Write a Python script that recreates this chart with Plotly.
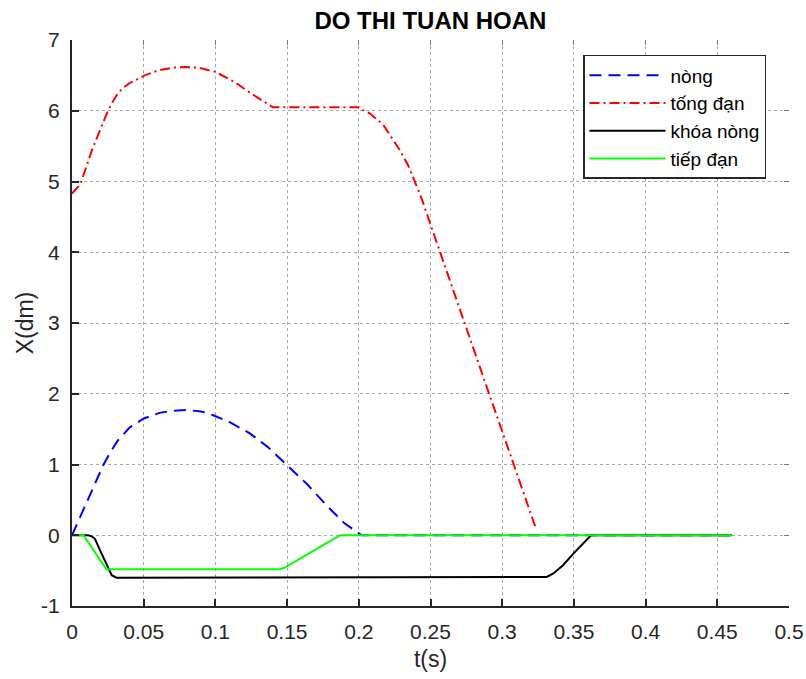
import plotly.graph_objects as go

# ---- data ----
t_nong = [0, 0.005, 0.01, 0.015, 0.022, 0.027, 0.032, 0.04, 0.05, 0.061, 0.07, 0.08,
          0.09, 0.098, 0.11, 0.124, 0.137, 0.15, 0.164, 0.1776, 0.19, 0.202, 0.46]
x_nong = [0, 0.23, 0.46, 0.69, 1.0, 1.18, 1.34, 1.52, 1.65, 1.73, 1.76, 1.77,
          1.75, 1.70, 1.60, 1.44, 1.24, 0.99, 0.72, 0.42, 0.17, 0.0, 0.0]

t_tongdan = [0, 0.002, 0.0045, 0.0065, 0.0135, 0.0204, 0.0251, 0.029, 0.0321, 0.036,
             0.0402, 0.0507, 0.06, 0.0704, 0.08, 0.09, 0.1, 0.113, 0.126, 0.14,
             0.2, 0.2008, 0.2078, 0.2171, 0.2218, 0.2287, 0.2346, 0.2392, 0.2438,
             0.2485, 0.2566, 0.274, 0.29, 0.3, 0.3075, 0.3236]
x_tongdan = [4.83, 4.87, 4.93, 5.0, 5.42, 5.77, 6.0, 6.15, 6.25, 6.33,
             6.39, 6.50, 6.57, 6.61, 6.62, 6.60, 6.55, 6.41, 6.23, 6.05,
             6.05, 6.03, 5.96, 5.80, 5.65, 5.44, 5.22, 5.00, 4.76,
             4.48, 4.0, 2.98, 2.05, 1.47, 1.03, 0.09]

t_khoanong = [0, 0.0114, 0.014, 0.016, 0.0195, 0.0242, 0.0277, 0.031, 0.033, 0.3264,
              0.331, 0.3357, 0.3426, 0.3496, 0.3555, 0.3612, 0.362, 0.46]
x_khoanong = [0, 0, -0.02, -0.05, -0.21, -0.42, -0.565, -0.60, -0.60, -0.60,
              -0.59, -0.54, -0.42, -0.26, -0.14, -0.02, 0, 0]

t_tiepdan = [0, 0.008, 0.024, 0.145, 0.148, 0.187, 0.46]
x_tiepdan = [0, 0, -0.48, -0.48, -0.46, 0, 0]

names = ["nòng", "tống đạn", "khóa nòng", "tiếp đạn"]
x_ticks = [0, 0.05, 0.1, 0.15, 0.2, 0.25, 0.3, 0.35, 0.4, 0.45, 0.5]
x_ticklabels = ["0", "0.05", "0.1", "0.15", "0.2", "0.25", "0.3", "0.35", "0.4", "0.45", "0.5"]
y_ticks = [-1, 0, 1, 2, 3, 4, 5, 6, 7]
y_ticklabels = ["-1", "0", "1", "2", "3", "4", "5", "6", "7"]

FONT = "Liberation Sans, Arial, sans-serif"
DARK = "#262626"

fig = go.Figure()
series = [
    (t_nong, x_nong, "#0000ff", "12px,7px"),
    (t_tongdan, x_tongdan, "#ff0000", "10px,4px,2px,4px"),
    (t_khoanong, x_khoanong, "#000000", "solid"),
    (t_tiepdan, x_tiepdan, "#00ff00", "solid"),
]
for i, (tt, xx, col, dash) in enumerate(series):
    fig.add_trace(go.Scatter(x=tt, y=xx, mode="lines", name=names[i],
                             line=dict(color=col, width=2, dash=dash)))

# helper trace for mirrored ticks on top/right
fig.add_trace(go.Scatter(x=[None], y=[None], xaxis="x2", yaxis="y2",
                         showlegend=False, hoverinfo="skip"))

axis_common = dict(showgrid=True, gridcolor="#a8a8a8", griddash="dot", gridwidth=1,
                   zeroline=False, showline=True, linecolor=DARK, linewidth=2,
                   ticks="inside", ticklen=7, tickwidth=1.5, tickcolor=DARK,
                   automargin=False,
                   tickfont=dict(family=FONT, size=21, color=DARK))

fig.update_layout(
    width=806, height=679,
    margin=dict(l=72, r=17, t=40, b=73, autoexpand=False),
    paper_bgcolor="white", plot_bgcolor="white",
    title=dict(text="<b>DO THI TUAN HOAN</b>", x=0.534, xanchor="center",
               y=1 - 21 / 679, yanchor="middle", yref="container",
               font=dict(family=FONT, size=24, color="black")),
    xaxis=dict(range=[0, 0.5], tickvals=x_ticks, ticktext=x_ticklabels,
               title=dict(text="t(s)", font=dict(family=FONT, size=23, color=DARK), standoff=9),
               ticklabelstandoff=6, **axis_common),
    yaxis=dict(range=[-1, 7], tickvals=y_ticks, ticktext=y_ticklabels,
               title=dict(text="X(dm)", font=dict(family=FONT, size=23, color=DARK), standoff=1),
               ticklabelstandoff=6, **axis_common),
    xaxis2=dict(range=[0, 0.5], tickvals=x_ticks, overlaying="x", side="top", anchor="y",
                showticklabels=False, showgrid=False, zeroline=False, showline=False,
                automargin=False,
                ticks="inside", ticklen=5, tickwidth=1, tickcolor="#777777"),
    yaxis2=dict(range=[-1, 7], tickvals=y_ticks, overlaying="y", side="right", anchor="x",
                showticklabels=False, showgrid=False, zeroline=False, showline=False,
                automargin=False,
                ticks="inside", ticklen=5, tickwidth=1, tickcolor="#777777"),
    legend=dict(x=0.7127, y=0.9735, xanchor="left", yanchor="top",
                bgcolor="white", bordercolor=DARK, borderwidth=1.5,
                font=dict(family=FONT, size=19, color="black"),
                itemwidth=76),
    showlegend=True,
)

fig.write_html("out.html")
